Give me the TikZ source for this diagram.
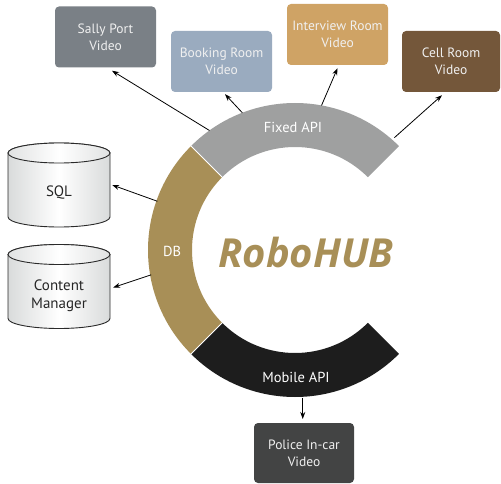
\documentclass[tikz,border=0pt]{standalone}
\usepackage{fontspec}
\setmainfont{PT Sans}
\newfontfamily\hubfont{Open Sans}
\usetikzlibrary{arrows.meta,calc}
\definecolor{ringgray}{HTML}{9FA0A0}
\definecolor{ringtan}{HTML}{A88F57}
\definecolor{ringblack}{HTML}{1D1D1D}
\definecolor{sallyc}{HTML}{7A8086}
\definecolor{bookingc}{HTML}{9AABBF}
\definecolor{interviewc}{HTML}{CFA365}
\definecolor{cellc}{HTML}{74573A}
\definecolor{policec}{HTML}{434444}
\definecolor{cylgray}{HTML}{D9DBDB}
\definecolor{cyledge}{HTML}{2A2A2A}
\begin{document}
\begin{tikzpicture}[x=1pt,y=1pt,
  vbox/.style={rounded corners=4pt, minimum width=101pt, minimum height=61pt, inner sep=0pt, align=center, text=white!94!black, font=\fontsize{13.5}{17}\selectfont},
  arr/.style={-{Stealth[length=7pt,width=5pt]}, line width=0.8pt, black},
  ringlabel/.style={text=white, font=\fontsize{14.5}{17}\selectfont, inner sep=0pt},
  cylnode/.style={minimum width=102pt, minimum height=84pt, inner sep=0pt},
  cyltext/.style={font=\fontsize{15}{18}\selectfont, text=black!85, align=center},
  dbcyl/.pic={
    \shadedraw[left color=cylgray, right color=cylgray, middle color=white, draw=cyledge, line width=0.9pt]
      (-51,32) -- (-51,-32) arc[start angle=180,end angle=360,x radius=51,y radius=10]
      -- (51,32) arc[start angle=0,end angle=180,x radius=51,y radius=10] -- cycle;
    \shadedraw[left color=cylgray!80, right color=cylgray!80, middle color=white, draw=cyledge, line width=0.9pt]
      (0,32) ellipse[x radius=51, y radius=10];
  }]
\useasboundingbox (0,0) rectangle (501,483);
\coordinate (hub) at (295,233);

% ring segments
\fill[ringgray] ($(hub)+(45:147)$) arc[start angle=45,end angle=135,radius=147]
  -- ($(hub)+(135:103)$) arc[start angle=135,end angle=45,radius=103] -- cycle;
\fill[ringtan] ($(hub)+(135:147)$) arc[start angle=135,end angle=225,radius=147]
  -- ($(hub)+(225:103)$) arc[start angle=225,end angle=135,radius=103] -- cycle;
\fill[ringblack] ($(hub)+(225:147)$) arc[start angle=225,end angle=315,radius=147]
  -- ($(hub)+(315:103)$) arc[start angle=315,end angle=225,radius=103] -- cycle;
\draw[white, line width=1pt] ($(hub)+(135:102)$) -- ($(hub)+(135:148)$);
\draw[white, line width=1pt] ($(hub)+(225:102)$) -- ($(hub)+(225:148)$);

\node[ringlabel] (fixed) at (293,356) {Fixed API};
\node[ringlabel] (db) at (172,232) {DB};
\node[ringlabel] (mobile) at (296,106) {Mobile API};
\node[text=ringtan, font=\hubfont\fontsize{40}{46}\bfseries\itshape\selectfont, inner sep=0pt] (robohub) at (306,231) {RoboHUB};

% video boxes
\node[vbox, fill=sallyc] (sally) at (105.5,446) {Sally Port\\Video};
\node[vbox, fill=bookingc] (booking) at (221.5,421.5) {Booking Room\\Video};
\node[vbox, fill=interviewc] (interview) at (337.5,448.5) {Interview Room\\Video};
\node[vbox, fill=cellc, minimum width=98pt] (cell) at (451,421.5) {Cell Room\\Video};
\node[vbox, fill=policec, minimum width=100pt, minimum height=60pt] (police) at (304,30) {Police In-car\\Video};

% cylinders
\pic at (59,298) {dbcyl};
\node[cylnode, label={[cyltext, yshift=-8pt]center:SQL}] (sql) at (59,298) {};
\pic at (59,196.5) {dbcyl};
\node[cylnode, label={[cyltext, yshift=-9pt]center:Content\\Manager}] (cm) at (59,196.5) {};

% connector start points on the ring
\coordinate (pSally) at ($(hub)+(125.6:147)$);
\coordinate (pBooking) at ($(hub)+(111:147)$);
\coordinate (pInterview) at ($(hub)+(79.6:147)$);
\coordinate (pCell) at ($(hub)+(48.5:150)$);
\coordinate (pSql) at ($(hub)+(160.5:146)$);
\coordinate (pCm) at ($(hub)+(189.8:146)$);
\coordinate (pMobile) at ($(hub)+(-87:148)$);

\draw[arr] (pSally) -- ($(sally.south)+(6.5,-3)$);
\draw[arr] (pBooking) -- ($(booking.south)+(3.5,-2)$);
\draw[arr] (pInterview) -- ($(interview.south)+(0,-3)$);
\draw[arr] (pCell) -- ($(cell.south)+(-9,-3)$);
\draw[arr] (pSql) -- ($(sql.east)+(2,0)$);
\draw[arr] (pCm) -- ($(cm.east)+(3,-1)$);
\draw[arr] (pMobile) -- (pMobile |- 0,64);
\end{tikzpicture}
\end{document}
